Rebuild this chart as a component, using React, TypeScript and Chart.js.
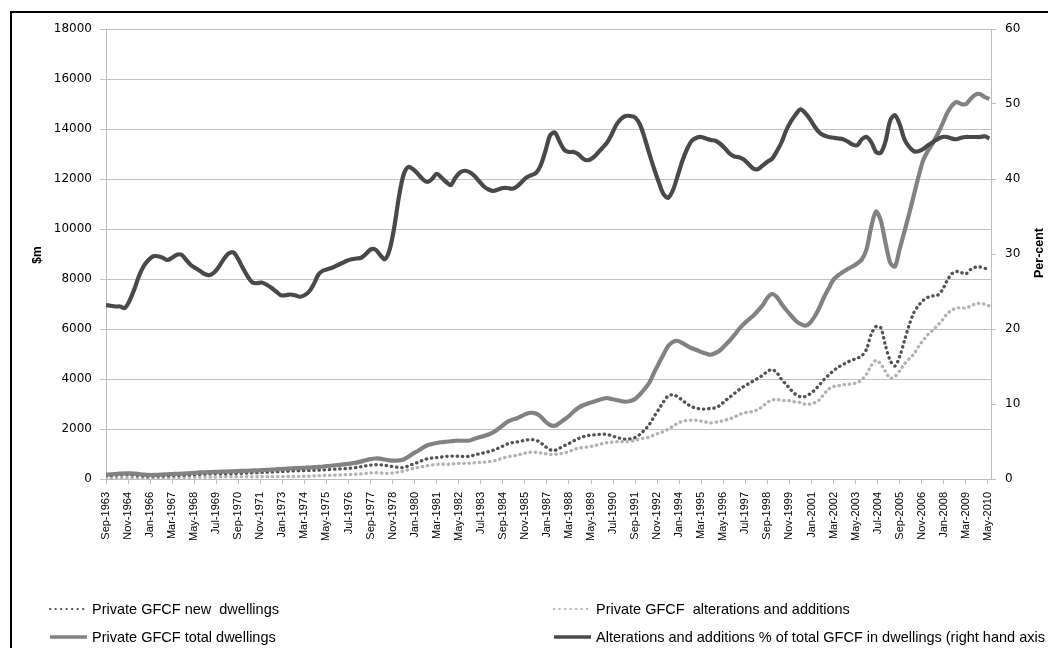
import React, { useEffect, useRef } from "react";
import { Chart, registerables } from "chart.js";

Chart.register(...registerables);

// Quarterly observations starting Sep-1963 (x = months since Sep-1963)
const MONTHS_PER_QUARTER = 3;
const TICK_STEP_MONTHS = 14;
const X_MAX_MONTHS = 562;

const tickLabels = [
  "Sep-1963", "Nov-1964", "Jan-1966", "Mar-1967", "May-1968", "Jul-1969", "Sep-1970",
  "Nov-1971", "Jan-1973", "Mar-1974", "May-1975", "Jul-1976", "Sep-1977", "Nov-1978",
  "Jan-1980", "Mar-1981", "May-1982", "Jul-1983", "Sep-1984", "Nov-1985", "Jan-1987",
  "Mar-1988", "May-1989", "Jul-1990", "Sep-1991", "Nov-1992", "Jan-1994", "Mar-1995",
  "May-1996", "Jul-1997", "Sep-1998", "Nov-1999", "Jan-2001", "Mar-2002", "May-2003",
  "Jul-2004", "Sep-2005", "Nov-2006", "Jan-2008", "Mar-2009", "May-2010",
];

const leftTicks = [0, 2000, 4000, 6000, 8000, 10000, 12000, 14000, 16000, 18000];
const rightTicks = [0, 10, 20, 30, 40, 50, 60];

// Alterations and additions % of total GFCF in dwellings (right axis)
const altSharePct = [
  23.2, 23.1, 23.0, 23.0, 22.8, 23.8, 25.3, 27.1, 28.4, 29.2,
  29.7, 29.7, 29.5, 29.2, 29.5, 29.9, 29.9, 29.2, 28.5, 28.1,
  27.7, 27.3, 27.2, 27.6, 28.4, 29.4, 30.1, 30.2, 29.3, 28.1,
  27.0, 26.2, 26.1, 26.2, 25.9, 25.5, 25.0, 24.5, 24.5, 24.6,
  24.5, 24.3, 24.5, 25.0, 26.0, 27.3, 27.8, 28.0, 28.2, 28.5,
  28.8, 29.1, 29.3, 29.4, 29.5, 30.0, 30.6, 30.6, 29.9, 29.3,
  30.5, 33.5, 37.6, 40.6, 41.6, 41.3, 40.7, 40.0, 39.6, 40.0,
  40.7, 40.2, 39.6, 39.2, 40.2, 40.9, 41.1, 40.9, 40.4, 39.7,
  39.0, 38.6, 38.4, 38.6, 38.8, 38.8, 38.7, 39.0, 39.6, 40.2,
  40.5, 40.8, 41.8, 43.7, 45.8, 46.2, 45.0, 43.9, 43.6, 43.6,
  43.3, 42.7, 42.5, 42.8, 43.4, 44.1, 44.8, 45.9, 47.2, 48.0,
  48.4, 48.4, 48.2, 47.3, 45.5, 43.4, 41.4, 39.6, 38.0, 37.5,
  38.5, 40.4, 42.4, 44.0, 45.1, 45.5, 45.6, 45.4, 45.2, 45.1,
  44.7, 44.1, 43.4, 43.0, 42.9, 42.6, 42.0, 41.4, 41.3, 41.8,
  42.3, 42.7, 43.7, 44.9, 46.5, 47.7, 48.6, 49.3, 48.8, 48.0,
  47.0, 46.2, 45.8, 45.6, 45.5, 45.4, 45.3, 45.0, 44.6, 44.5,
  45.3, 45.6, 44.9, 43.6, 43.5, 45.0, 47.8, 48.5, 47.3, 45.3,
  44.3, 43.7, 43.7, 44.0, 44.5, 44.9, 45.3, 45.6, 45.6, 45.4,
  45.3, 45.5, 45.6, 45.6, 45.6, 45.6, 45.7, 45.4,
];

// Private GFCF total dwellings ($m)
const totalDwellings = [
  175, 185, 200, 215, 222, 225, 215, 195, 175, 162,
  162, 170, 180, 190, 198, 205, 215, 225, 235, 248,
  262, 270, 277, 284, 290, 297, 304, 311, 318, 324,
  330, 338, 345, 355, 365, 375, 385, 398, 410, 422,
  432, 440, 450, 460, 472, 485, 500, 520, 540, 558,
  575, 600, 625, 655, 700, 750, 795, 820, 815, 780,
  745, 732, 745, 780, 890, 1020, 1120, 1240, 1350, 1400,
  1440, 1470, 1490, 1510, 1530, 1530, 1530, 1540, 1610, 1670,
  1720, 1780, 1870, 2000, 2150, 2290, 2370, 2430, 2520, 2610,
  2650, 2620, 2500, 2300, 2160, 2130, 2240, 2380, 2520, 2700,
  2850, 2950, 3020, 3080, 3140, 3200, 3240, 3200, 3160, 3120,
  3090, 3120, 3200, 3380, 3600, 3850, 4250, 4620, 4980, 5320,
  5480, 5520, 5440, 5330, 5230, 5160, 5080, 5020, 4970, 5040,
  5150, 5340, 5530, 5760, 6000, 6200, 6370, 6530, 6730, 6950,
  7250, 7400, 7280, 7000, 6760, 6540, 6330, 6200, 6130, 6240,
  6500, 6850, 7280, 7630, 7980, 8150, 8280, 8400, 8500, 8620,
  8780, 9200, 10100, 10700, 10340, 9450, 8650, 8500, 9200, 9890,
  10600, 11350, 12100, 12760, 13130, 13430, 13780, 14180, 14620, 14920,
  15080, 15000, 14990, 15200, 15370, 15400, 15280, 15200,
];

// Private GFCF new dwellings ($m)
const newDwellings = [
  134, 142, 154, 166, 172, 171, 161, 142, 125, 115,
  114, 120, 127, 135, 140, 144, 151, 159, 168, 178,
  189, 196, 202, 206, 208, 210, 212, 217, 225, 233,
  241, 249, 255, 262, 270, 279, 289, 300, 310, 318,
  326, 333, 340, 345, 349, 353, 361, 374, 388, 399,
  409, 425, 442, 462, 493, 525, 552, 569, 571, 551,
  518, 487, 463, 462, 520, 599, 664, 744, 809, 840,
  854, 879, 900, 918, 915, 904, 901, 910, 960, 1007,
  1049, 1093, 1152, 1228, 1316, 1401, 1453, 1482, 1522, 1561,
  1577, 1551, 1455, 1295, 1171, 1146, 1232, 1335, 1421, 1523,
  1616, 1690, 1736, 1762, 1777, 1789, 1788, 1731, 1668, 1622,
  1594, 1610, 1658, 1781, 1962, 2179, 2490, 2790, 3088, 3325,
  3370, 3290, 3150, 3000, 2890, 2830, 2800, 2800, 2830, 2850,
  2950, 3120, 3270, 3420, 3570, 3700, 3810, 3920, 4030, 4150,
  4300, 4380, 4250, 3980, 3780, 3560, 3380, 3290, 3300, 3400,
  3560, 3760, 3980, 4160, 4330, 4470, 4580, 4680, 4760, 4830,
  4930, 5200, 5800, 6100, 6050, 5330, 4740, 4520, 4900, 5530,
  6150, 6650, 6940, 7150, 7270, 7320, 7350, 7550, 7920, 8200,
  8300, 8260, 8200, 8380, 8470, 8480, 8430, 8370,
];

// Private GFCF alterations and additions ($m)
const altAdditions = [
  41, 43, 46, 49, 50, 54, 54, 53, 50, 47,
  48, 50, 53, 55, 58, 61, 64, 66, 67, 70,
  73, 74, 75, 78, 82, 87, 92, 94, 93, 91,
  89, 89, 90, 93, 95, 96, 96, 98, 100, 104,
  106, 107, 110, 115, 123, 132, 139, 146, 152, 159,
  166, 175, 183, 193, 207, 225, 243, 251, 244, 229,
  227, 245, 282, 318, 370, 421, 456, 496, 531, 560,
  586, 591, 590, 592, 615, 626, 629, 630, 650, 663,
  671, 687, 718, 772, 834, 889, 917, 948, 998, 1049,
  1073, 1069, 1045, 1005, 989, 984, 1008, 1045, 1099, 1177,
  1234, 1260, 1284, 1318, 1363, 1411, 1452, 1469, 1492, 1498,
  1496, 1510, 1542, 1599, 1638, 1671, 1760, 1830, 1892, 1995,
  2110, 2230, 2307, 2345, 2359, 2348, 2316, 2279, 2246, 2273,
  2302, 2355, 2400, 2477, 2574, 2641, 2675, 2703, 2779, 2905,
  3067, 3160, 3181, 3143, 3143, 3120, 3076, 3057, 2991, 2995,
  3055, 3165, 3400, 3600, 3700, 3730, 3770, 3790, 3810, 3850,
  3977, 4195, 4535, 4750, 4600, 4300, 4030, 4100, 4330, 4600,
  4800, 5000, 5300, 5550, 5780, 5950, 6140, 6350, 6600, 6760,
  6830, 6850, 6840, 6920, 7000, 7030, 6990, 6920,
];

const seriesLabels = {
  newD: "Private GFCF new  dwellings",
  alt: "Private GFCF  alterations and additions",
  total: "Private GFCF total dwellings",
  pct: "Alterations and additions % of total GFCF in dwellings (right hand axis",
};

const COLORS = {
  pct: "#494949",
  total: "#828282",
  newD: "#535353",
  alt: "#b2b2b2",
  grid: "#c2c2c2",
  axis: "#bcbcbc",
  text: "#000000",
};

const toPoints = (arr: number[]) => arr.map((v, i) => ({ x: i * MONTHS_PER_QUARTER, y: v }));

const TICK_FONT = '"DejaVu Sans", sans-serif';
const LABEL_FONT = '"Liberation Sans", Arial, sans-serif';

const decorPlugin = {
  id: "decor",
  afterDraw(chart: any) {
    const ctx = chart.ctx as CanvasRenderingContext2D;
    const area = chart.chartArea;
    ctx.save();
    // outer border (left and top edges visible)
    ctx.fillStyle = "#000";
    ctx.fillRect(10, 11, 2, 648);
    ctx.fillRect(10, 11, 1048, 2);

    // axis titles
    ctx.fillStyle = COLORS.text;
    ctx.font = `bold 12px ${LABEL_FONT}`;
    ctx.textAlign = "center";
    ctx.textBaseline = "middle";
    const midY = (area.top + area.bottom) / 2;
    ctx.save();
    ctx.translate(area.left - 68, midY + 1);
    ctx.rotate(-Math.PI / 2);
    ctx.fillText("$m", 0, 0);
    ctx.restore();
    ctx.save();
    ctx.font = `bold 12.5px ${LABEL_FONT}`;
    ctx.translate(area.right + 49, midY - 1);
    ctx.rotate(-Math.PI / 2);
    ctx.fillText("Per-cent", 0, 0);
    ctx.restore();

    // legend
    const rows = [609, 637];
    const cols = [49, 553];
    const sampleLen = 38;
    const items = [
      { col: 0, row: 0, label: seriesLabels.newD, color: COLORS.newD, dotted: true },
      { col: 1, row: 0, label: seriesLabels.alt, color: COLORS.alt, dotted: true },
      { col: 0, row: 1, label: seriesLabels.total, color: COLORS.total, dotted: false },
      { col: 1, row: 1, label: seriesLabels.pct, color: COLORS.pct, dotted: false },
    ];
    ctx.font = `14.5px ${LABEL_FONT}`;
    ctx.textAlign = "left";
    ctx.textBaseline = "middle";
    for (const it of items) {
      const x0 = cols[it.col];
      const y = rows[it.row];
      ctx.save();
      ctx.strokeStyle = it.color;
      ctx.beginPath();
      if (it.dotted) {
        ctx.lineWidth = 2.2;
        ctx.lineCap = "round";
        ctx.setLineDash([0.3, 5.2]);
      } else {
        ctx.lineWidth = 3.5;
        ctx.lineCap = "butt";
      }
      ctx.moveTo(x0 + 1, y);
      ctx.lineTo(x0 + sampleLen, y);
      ctx.stroke();
      ctx.restore();
      ctx.fillStyle = COLORS.text;
      ctx.fillText(it.label, x0 + sampleLen + 5, y + 1);
    }
    ctx.restore();
  },
};

export default function App() {
  const canvasRef = useRef<HTMLCanvasElement | null>(null);

  useEffect(() => {
    if (!canvasRef.current) return;
    const chart = new Chart(canvasRef.current, {
      type: "line",
      data: {
        datasets: [
          {
            label: seriesLabels.pct,
            data: toPoints(altSharePct),
            yAxisID: "y1",
            borderColor: COLORS.pct,
            borderWidth: 4.2,
            pointRadius: 0,
            tension: 0.3,
          },
          {
            label: seriesLabels.total,
            data: toPoints(totalDwellings),
            yAxisID: "y",
            borderColor: COLORS.total,
            borderWidth: 4.2,
            pointRadius: 0,
            tension: 0.3,
          },
          {
            label: seriesLabels.newD,
            data: toPoints(newDwellings),
            yAxisID: "y",
            borderColor: COLORS.newD,
            borderWidth: 3.3,
            borderDash: [0.4, 4.8],
            borderCapStyle: "round",
            pointRadius: 0,
            tension: 0.3,
          },
          {
            label: seriesLabels.alt,
            data: toPoints(altAdditions),
            yAxisID: "y",
            borderColor: COLORS.alt,
            borderWidth: 3.3,
            borderDash: [0.4, 4.8],
            borderCapStyle: "round",
            pointRadius: 0,
            tension: 0.3,
          },
        ],
      },
      options: {
        animation: false,
        responsive: false,
        layout: { padding: { left: 46, right: 17, top: 29, bottom: 69 } },
        plugins: {
          legend: { display: false },
          tooltip: { enabled: false },
          title: { display: false },
        },
        scales: {
          x: {
            type: "linear",
            position: "bottom",
            min: 0,
            max: X_MAX_MONTHS,
            afterBuildTicks: (scale: any) => {
              scale.ticks = tickLabels.map((_, i) => ({ value: i * TICK_STEP_MONTHS }));
            },
            afterFit: (scale: any) => {
              scale.height = 100;
            },
            ticks: {
              autoSkip: false,
              minRotation: 90,
              maxRotation: 90,
              padding: 8,
              color: COLORS.text,
              font: { family: LABEL_FONT, size: 11 },
              callback: (_v: any, i: number) => tickLabels[i] ?? "",
            },
            grid: { drawOnChartArea: false, drawTicks: true, tickLength: 5, color: COLORS.axis },
            border: { display: true, color: COLORS.axis, width: 1 },
          },
          y: {
            type: "linear",
            position: "left",
            min: leftTicks[0],
            max: leftTicks[leftTicks.length - 1],
            afterBuildTicks: (scale: any) => {
              scale.ticks = leftTicks.map((v) => ({ value: v }));
            },
            afterFit: (scale: any) => {
              scale.width = 60;
            },
            ticks: {
              padding: 8,
              color: COLORS.text,
              font: { family: TICK_FONT, size: 12 },
              callback: (v: any) => String(v),
            },
            grid: { color: COLORS.grid, tickLength: 6 },
            border: { display: true, color: COLORS.axis, width: 1 },
          },
          y1: {
            type: "linear",
            position: "right",
            min: rightTicks[0],
            max: rightTicks[rightTicks.length - 1],
            afterBuildTicks: (scale: any) => {
              scale.ticks = rightTicks.map((v) => ({ value: v }));
            },
            afterFit: (scale: any) => {
              scale.width = 40;
            },
            ticks: {
              padding: 9,
              color: COLORS.text,
              font: { family: TICK_FONT, size: 12 },
              callback: (v: any) => String(v),
            },
            grid: { drawOnChartArea: false, tickLength: 5, color: COLORS.axis },
            border: { display: true, color: COLORS.axis, width: 1 },
          },
        },
      },
      plugins: [decorPlugin],
    } as any);
    return () => chart.destroy();
  }, []);

  return (
    <div
      style={{
        position: "fixed",
        left: 0,
        top: 0,
        width: 1048,
        height: 648,
        background: "#ffffff",
        overflow: "hidden",
      }}
    >
      <canvas ref={canvasRef} width={1048} height={648} style={{ display: "block" }} />
    </div>
  );
}
